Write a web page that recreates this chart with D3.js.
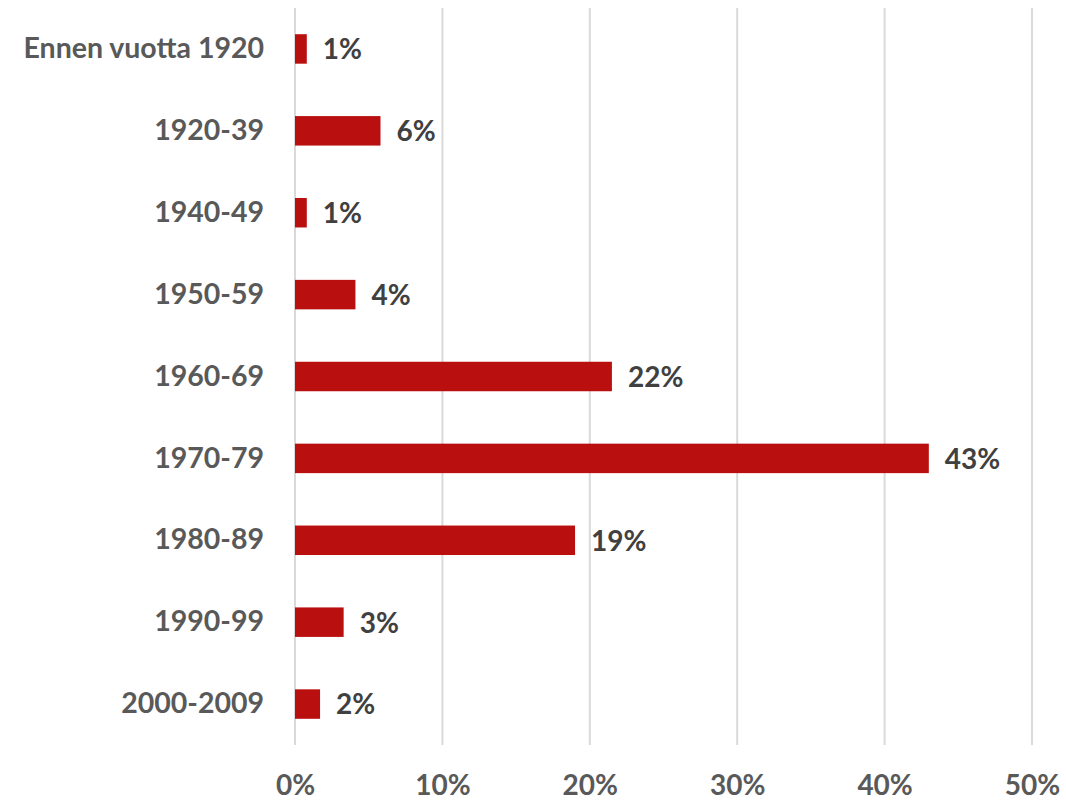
<!DOCTYPE html>
<html lang="fi">
<head>
<meta charset="UTF-8">
<title>Rakennusvuosi</title>
<script src="https://d3js.org/d3.v7.min.js"></script>
<style>
  body { margin: 0; background: #fff; }
  text { font-family: Lato, "Open Sans", sans-serif; font-weight: bold; }
</style>
</head>
<body>
<div id="chart"></div>
<script>
// Data
var categories = ["Ennen vuotta 1920", "1920-39", "1940-49", "1950-59", "1960-69",
                  "1970-79", "1980-89", "1990-99", "2000-2009"];
var values = [0.8, 5.8, 0.8, 4.1, 21.5, 43.0, 19.0, 3.3, 1.7];
var valueLabels = ["1%", "6%", "1%", "4%", "22%", "43%", "19%", "3%", "2%"];
var ticks = [0, 10, 20, 30, 40, 50];

var margin = { top: 8, right: 34, bottom: 56, left: 295 },
    width = 1066 - margin.left - margin.right,
    height = 801 - margin.top - margin.bottom;

var svg = d3.select("#chart")
    .append("svg")
    .attr("width", width + margin.left + margin.right)
    .attr("height", height + margin.top + margin.bottom)
    .append("g")
    .attr("transform", "translate(" + margin.left + "," + margin.top + ")");

var x = d3.scaleLinear()
    .domain([0, 50])
    .range([0, width]);

var y = d3.scaleBand()
    .domain(categories)
    .range([0, height])
    .paddingInner(0.64)
    .paddingOuter(0.32);

// gridlines
svg.selectAll(".grid")
    .data(ticks)
    .enter()
    .append("line")
    .attr("x1", function(d) { return x(d); })
    .attr("x2", function(d) { return x(d); })
    .attr("y1", 0)
    .attr("y2", height)
    .attr("stroke", "#d9d9d9")
    .attr("stroke-width", 2);

// x axis labels
var xAxis = svg.append("g")
    .attr("transform", "translate(0," + height + ")")
    .call(d3.axisBottom(x).tickValues(ticks).tickSize(0).tickPadding(30)
        .tickFormat(function(d) { return d + "%"; }));
xAxis.select(".domain").remove();
xAxis.selectAll("text")
    .attr("fill", "#595959")
    .style("font-size", "28px");

// y axis labels
var yAxis = svg.append("g")
    .call(d3.axisLeft(y).tickSize(0).tickPadding(31));
yAxis.select(".domain").remove();
yAxis.selectAll("text")
    .attr("fill", "#595959")
    .style("font-size", "28.5px");

var rows = categories.map(function(c, i) {
    return { cat: c, value: values[i], label: valueLabels[i] };
});

// bars
svg.selectAll(".bar")
    .data(rows)
    .enter()
    .append("rect")
    .attr("x", x(0))
    .attr("y", function(d) { return y(d.cat); })
    .attr("width", function(d) { return x(d.value) - x(0); })
    .attr("height", y.bandwidth())
    .attr("fill", "#b90f0f");

// value labels
svg.selectAll(".lbl")
    .data(rows)
    .enter()
    .append("text")
    .attr("x", function(d) { return x(d.value) + 16; })
    .attr("y", function(d) { return y(d.cat) + y.bandwidth() / 2; })
    .attr("dy", "0.37em")
    .attr("fill", "#404040")
    .style("font-size", "28px")
    .text(function(d) { return d.label; });
</script>
</body>
</html>
